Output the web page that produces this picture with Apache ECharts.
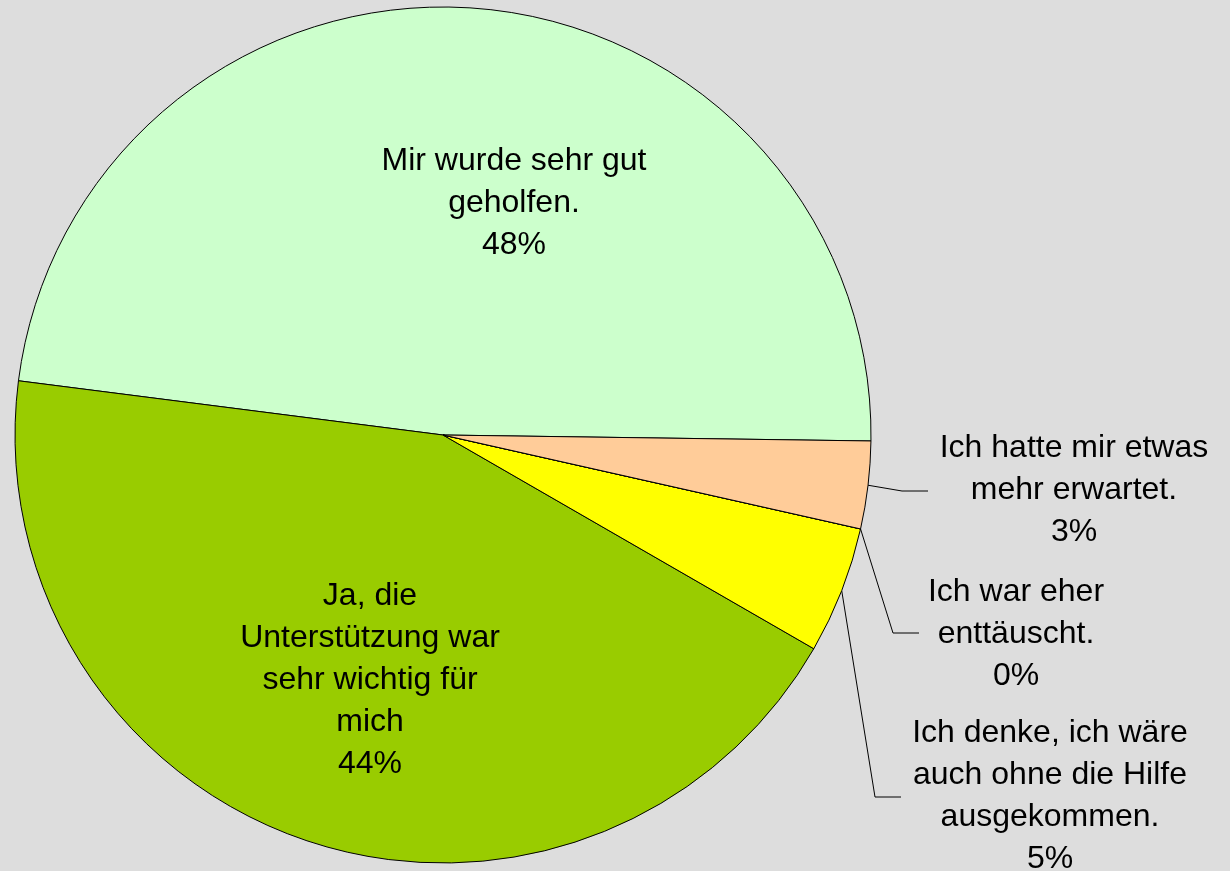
<!DOCTYPE html>
<html>
<head>
<meta charset="utf-8">
<script src="https://cdn.jsdelivr.net/npm/echarts@6/dist/echarts.min.js"></script>
<style>
    html, body { margin: 0; padding: 0; background: #dddddd; }
    #main { width: 1230px; height: 871px; }
</style>
</head>
<body>
<div id="main"></div>
<script>
// Antworten (Reihenfolge gegen den Uhrzeigersinn)
var categories = [
    'Mir wurde sehr gut\ngeholfen.',
    'Ja, die\nUnterstützung war\nsehr wichtig für\nmich',
    'Ich denke, ich wäre\nauch ohne die Hilfe\nausgekommen.',
    'Ich war eher\nenttäuscht.',
    'Ich hatte mir etwas\nmehr erwartet.'
];
var values = [48.2, 43.7, 4.8, 0, 3.3];
var colors = ['#ccffcc', '#99cc00', '#ffff00', '#ff8080', '#ffcc99'];

// Label-Positionen (Layout)
var labelPos = [[514, 203], [370, 680], [1050, 796], [1016, 634], [1074, 490]];
var lineEnds = [null, null, [[875, 797], [901, 797]], [[893, 633], [919, 633]], [[902, 491], [928, 491]]];

var chart = echarts.init(document.getElementById('main'));

var data = categories.map(function (name, i) {
    var inside = i < 2;
    return {
        name: name,
        value: values[i],
        itemStyle: {color: colors[i]},
        label: {position: inside ? 'inside' : 'outside'},
        labelLine: {show: !inside}
    };
});

chart.setOption({
    backgroundColor: '#dddddd',
    animation: false,
    series: [{
        type: 'pie',
        center: [443, 435],
        radius: 428,
        startAngle: -0.8,
        clockwise: false,
        avoidLabelOverlap: false,
        percentPrecision: 0,
        itemStyle: {borderColor: '#000', borderWidth: 1},
        label: {
            formatter: '{b}\n{d}%',
            color: '#000',
            fontFamily: 'Liberation Sans, Arial, sans-serif',
            fontSize: 32,
            lineHeight: 42,
            align: 'center'
        },
        labelLine: {
            show: true,
            length: 20,
            length2: 20,
            lineStyle: {color: '#000', width: 1}
        },
        labelLayout: function (p) {
            var pos = labelPos[p.dataIndex];
            var res = {x: pos[0], y: pos[1], align: 'center', verticalAlign: 'middle'};
            var ends = lineEnds[p.dataIndex];
            if (ends && p.labelLinePoints) {
                res.labelLinePoints = [p.labelLinePoints[0], ends[0], ends[1]];
            }
            return res;
        },
        emphasis: {disabled: true},
        data: data
    }]
});
</script>
</body>
</html>
